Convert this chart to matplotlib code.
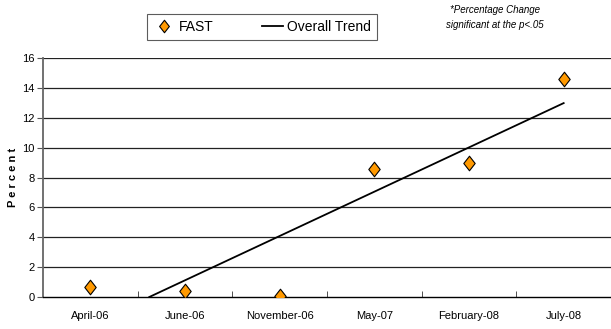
import numpy as np
import matplotlib
matplotlib.use("Agg")
import matplotlib.pyplot as plt
from matplotlib import font_manager
from matplotlib.lines import Line2D
from matplotlib.path import Path

# Pick a condensed sans-serif if available
available = {f.name for f in font_manager.fontManager.ttflist}
family = "Liberation Sans Narrow" if "Liberation Sans Narrow" in available else "Liberation Sans"
plt.rcParams["font.family"] = [family, "DejaVu Sans"]

categories = ["April-06", "June-06", "November-06", "May-07", "February-08", "July-08"]
fast_values = [0.7, 0.4, 0.1, 8.6, 9.0, 14.6]
y_ticks = [0, 2, 4, 6, 8, 10, 12, 14, 16]

# Slightly narrow diamond marker
diamond = Path([(0, -1), (0.78, 0), (0, 1), (-0.78, 0), (0, -1)],
               [Path.MOVETO, Path.LINETO, Path.LINETO, Path.LINETO, Path.CLOSEPOLY])

W, H = 611, 329
fig = plt.figure(figsize=(W / 100, H / 100), dpi=100)
ax = fig.add_axes([43 / W, (H - 297) / H, (W - 43) / W, (297 - 58) / H])

x = np.arange(len(categories))

# Linear trend fitted to the series
slope, intercept = np.polyfit(x, fast_values, 1)
x0 = -intercept / slope
tx = np.array([x0, x[-1]])
ax.plot(tx, slope * tx + intercept, color="black", lw=1.3, zorder=3)

ax.plot(x, fast_values, linestyle="none", marker=diamond, markersize=10.5,
        markerfacecolor="#FF9900", markeredgecolor="black", markeredgewidth=0.8, zorder=4)

ax.set_xlim(-0.5, len(categories) - 0.5)
ax.set_ylim(0, 16)
ax.set_yticks(y_ticks)
ax.set_yticklabels([str(v) for v in y_ticks], fontsize=8)
ax.set_xticks(x)
ax.set_xticklabels(categories, fontsize=8)
ax.set_xticks(np.arange(0.5, len(categories) - 0.5, 1), minor=True)
ax.tick_params(axis="x", which="major", length=0, pad=10)
ax.tick_params(axis="x", which="minor", length=4, color="#333333", direction="in")
ax.tick_params(axis="y", length=4, color="#555555", pad=2)

for v in y_ticks[1:]:
    ax.axhline(v, color="#222222", lw=0.9, zorder=1)

for s in ["top", "right"]:
    ax.spines[s].set_visible(False)
ax.spines["left"].set_color("#666666")
ax.spines["left"].set_linewidth(1.3)
ax.spines["bottom"].set_color("black")
ax.spines["bottom"].set_linewidth(1.0)

ax.set_ylabel("P e r c e n t", fontsize=8, fontweight="bold", labelpad=3)

handles = [
    Line2D([], [], linestyle="none", marker=diamond, markersize=9,
           markerfacecolor="#FF9900", markeredgecolor="black", markeredgewidth=0.8),
    Line2D([], [], color="black", lw=1.3),
]
leg = fig.legend(handles, ["FAST", "Overall Trend"], ncol=2, fontsize=10,
                 loc="center", bbox_to_anchor=(262 / W, (H - 27) / H),
                 frameon=True, fancybox=False, edgecolor="#333333",
                 handlelength=1.5, handletextpad=0.3, columnspacing=3.5,
                 borderpad=0.45, borderaxespad=0)
leg.get_frame().set_linewidth(0.8)

fig.text(495 / W, (H - 10) / H, "*Percentage Change", fontsize=7, style="italic",
         ha="center", va="center")
fig.text(495 / W, (H - 25) / H, "significant at the p<.05", fontsize=7, style="italic",
         ha="center", va="center")

fig.savefig("out.png", dpi=100)
